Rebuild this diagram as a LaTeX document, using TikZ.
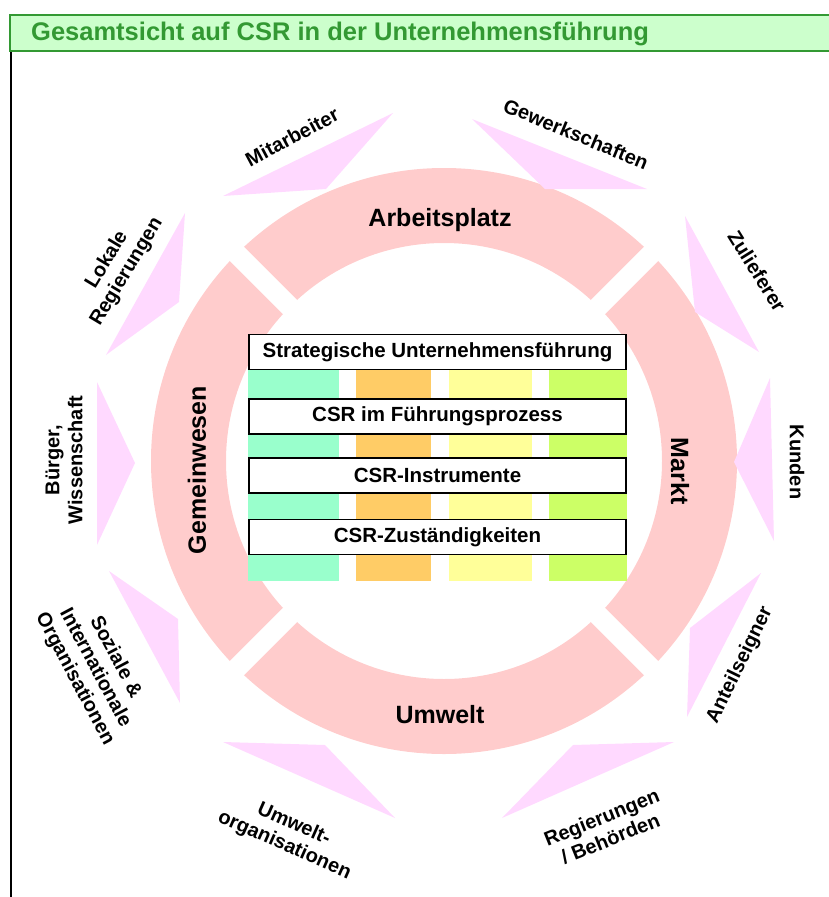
\documentclass[tikz,border=0pt]{standalone}
\usepackage{fontspec}
\setmainfont{Liberation Sans}
\definecolor{ringpink}{HTML}{FFCCCC}
\definecolor{tripink}{HTML}{FFD9FF}
\definecolor{hdrfill}{HTML}{CCFFCC}
\definecolor{hdrline}{HTML}{339933}
\definecolor{mint}{HTML}{99FFCC}
\definecolor{orangebar}{HTML}{FFCC66}
\definecolor{yellowbar}{HTML}{FFFF99}
\definecolor{limebar}{HTML}{CCFF66}
\begin{document}
\begin{tikzpicture}[x=1pt,y=-1pt,
  tri/.style={fill=tripink},
  lab/.style={font=\bfseries\fontsize{20}{23}\selectfont, align=center, inner sep=0pt},
  ringlab/.style={font=\bfseries\fontsize{25}{28}\selectfont, inner sep=0pt},
  boxnode/.style={draw=black, line width=1.6pt, fill=white, minimum width=377pt, minimum height=35pt, inner sep=0pt, font=\bfseries\fontsize{20.5}{24}\selectfont},
  gap/.style={draw=white, line width=20pt}
]
\useasboundingbox (0,0) rectangle (829,897);
% header
\draw[fill=hdrfill, draw=hdrline, line width=2pt] (10,15) rectangle (840,51);
\node[anchor=west, text=hdrline, font=\bfseries\fontsize{25.5}{30}\selectfont, inner sep=0pt] (title) at (31,34) {Gesamtsicht auf CSR in der Unternehmensführung};
\draw[line width=2pt] (11,52) -- (11,897);
% ring
\fill[ringpink, even odd rule] (444,461) circle[radius=293pt] (444,461) circle[radius=218pt];
\coordinate (g1) at (232,249);
\coordinate (g2) at (656,673);
\coordinate (g3) at (656,249);
\coordinate (g4) at (232,673);
\draw[gap] (g1) -- (g2);
\draw[gap] (g3) -- (g4);
\node[ringlab] (arb) at (440,220) {Arbeitsplatz};
\node[ringlab] (umw) at (440,715) {Umwelt};
\node[ringlab, rotate=90] (gem) at (197,470) {Gemeinwesen};
\node[ringlab, rotate=-90] (mkt) at (680,471) {Markt};
% triangles
\fill[tri] (223,196) -- (393,113) -- (326,189) -- cycle;
\fill[tri] (472,119) -- (647,189) -- (545,189) -- cycle;
\fill[tri] (685,216) -- (759,352) -- (695,312) -- cycle;
\fill[tri] (770,378) -- (774,541) -- (734,462) -- cycle;
\fill[tri] (761,573) -- (687,717) -- (690,628) -- cycle;
\fill[tri] (674,742) -- (502,818) -- (573,745) -- cycle;
\fill[tri] (223,742) -- (395,818) -- (325,745) -- cycle;
\fill[tri] (109,571) -- (180,703) -- (178,619) -- cycle;
\fill[tri] (97,382) -- (97,545) -- (135,463) -- cycle;
\fill[tri] (185,213) -- (106,355) -- (179,302) -- cycle;
% stakeholder labels
\node[lab, rotate=28] (l1) at (292,137) {Mitarbeiter};
\node[lab, rotate=-22.5] (l2) at (576,134) {Gewerkschaften};
\node[lab, rotate=-58] (l3) at (757,271) {Zulieferer};
\node[lab, rotate=-90] (l4) at (797,462) {Kunden};
\node[lab, rotate=64] (l5) at (740,665) {Anteilseigner};
\node[lab, rotate=22] (l6) at (606,828) {Regierungen\\/ Behörden};
\node[lab, rotate=-24] (l7) at (289,835) {Umwelt-\\organisationen};
\node[lab, rotate=-62] (l8) at (95,668) {Soziale \&\\Internationale\\Organisationen};
\node[lab, rotate=90] (l9) at (64,460) {Bürger,\\Wissenschaft};
\node[lab, rotate=59] (l10) at (117,266) {Lokale\\Regierungen};
% colour columns
\fill[mint] (248,365) rectangle (339,581);
\fill[orangebar] (356,365) rectangle (431,581);
\fill[yellowbar] (449,365) rectangle (532,581);
\fill[limebar] (549,365) rectangle (627,581);
% boxes
\node[boxnode] (b1) at (437.5,352) {Strategische Unternehmensführung};
\node[boxnode] (b2) at (437.5,416.5) {CSR im Führungsprozess};
\node[boxnode] (b3) at (437.5,475.5) {CSR-Instrumente};
\node[boxnode] (b4) at (437.5,537) {CSR-Zuständigkeiten};
\end{tikzpicture}
\end{document}
